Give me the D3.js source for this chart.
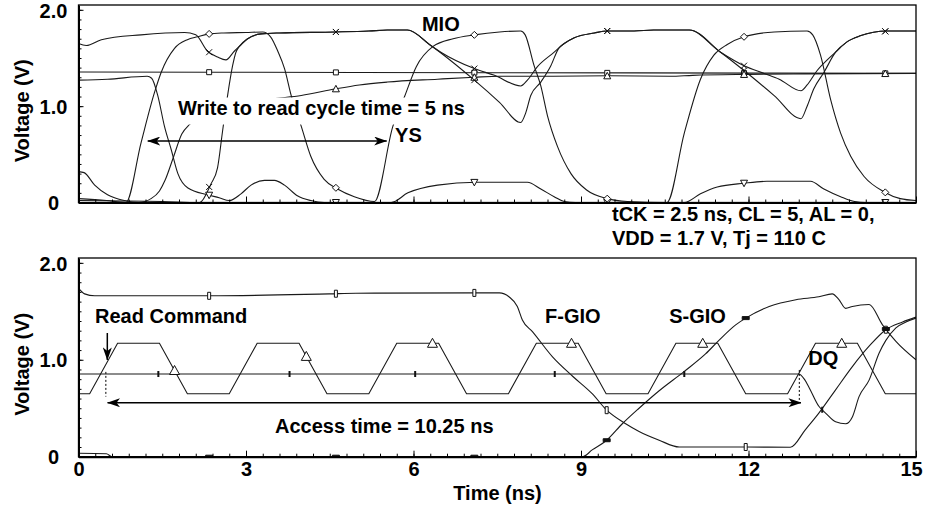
<!DOCTYPE html>
<html>
<head>
<meta charset="utf-8">
<script src="https://cdn.jsdelivr.net/npm/d3@7/dist/d3.min.js"></script>
<style>
  body { margin: 0; background: #fff; }
  svg { display: block; }
  text { font-family: "Liberation Sans", Arial, sans-serif; font-weight: bold; fill: #000; }
</style>
</head>
<body>
<div id="chart"></div>
<script>
// ---- data: [time (ns), voltage (V)] ----
const timeTicks = [0, 3, 6, 9, 12, 15];
const voltTicks = [0, 1, 2];
const voltLabels = ["0", "1.0", "2.0"];

// upper panel (write to read)
const ysWave = [[0,0.04],[0.5,0.02],[0.85,0],[1.12,0.62],[1.36,1.14],[1.48,1.35],[1.72,1.6],[1.95,1.69],[2.13,1.72],[2.34,1.75],[2.6,1.76],[3.0,1.765],[3.3,1.77],[3.44,1.72],[3.57,1.57],[3.69,1.39],[3.81,1.11],[3.99,0.79],[4.16,0.48],[4.4,0.24],[4.64,0.14],[4.94,0.06],[5.3,0.01],[5.63,0.79],[5.84,1.1],[6.05,1.41],[6.35,1.62],[6.71,1.70],[7.09,1.74],[7.54,1.77],[7.92,1.78],[8.0,1.74],[8.16,1.42],[8.28,1.21],[8.4,0.9],[8.58,0.58],[8.82,0.30],[9.1,0.13],[9.47,0.04],[9.83,0.01],[10.54,0],[10.85,0.72],[11.14,1.28],[11.38,1.53],[11.62,1.64],[11.92,1.72],[12.46,1.77],[13.05,1.78],[13.15,1.74],[13.29,1.53],[13.47,1.07],[13.65,0.72],[13.83,0.48],[14.07,0.27],[14.43,0.11],[14.72,0.04],[15,0.02]];
const mioA = [[0,1.65],[0.14,1.63],[0.41,1.69],[1.12,1.74],[1.9,1.765],[2.1,1.74],[2.31,1.57],[2.49,1.51],[2.64,1.48],[2.79,1.57],[2.88,1.62],[3.03,1.70],[3.27,1.75],[3.6,1.76],[4.6,1.77],[5.2,1.78],[5.53,1.79],[5.89,1.79],[6.31,1.63],[6.49,1.56],[7.09,1.39],[7.45,1.32],[7.92,1.21],[8.04,1.27],[8.22,1.41],[8.52,1.56],[8.7,1.65],[8.88,1.71],[9.24,1.76],[9.47,1.78],[9.95,1.78],[10.3,1.79],[10.94,1.79],[11.5,1.56],[11.92,1.42],[12.28,1.34],[12.55,1.28],[12.94,1.16],[13.05,1.22],[13.23,1.37],[13.41,1.48],[13.56,1.56],[13.77,1.67],[14.0,1.73],[14.48,1.78],[15,1.78]];
const mioB = [[0,0.02],[1.5,0.01],[2.17,0],[2.37,0.19],[2.49,0.36],[2.58,0.74],[2.67,1.11],[2.76,1.42],[2.82,1.56],[2.88,1.62],[3.03,1.70],[3.27,1.75],[3.6,1.76],[4.6,1.77],[5.2,1.78],[5.53,1.79],[5.89,1.79],[6.31,1.63],[7.09,1.27],[7.54,1.04],[7.92,0.83],[8.01,0.93],[8.1,1.11],[8.28,1.25],[8.46,1.42],[8.6,1.6],[8.7,1.65],[8.88,1.71],[9.24,1.76],[9.47,1.78],[9.95,1.78],[10.3,1.79],[10.94,1.79],[11.5,1.56],[11.92,1.37],[12.46,1.11],[12.94,0.87],[13.05,1.0],[13.17,1.18],[13.35,1.35],[13.56,1.56],[13.77,1.67],[14.0,1.73],[14.48,1.78],[15,1.78]];
const refWave = [[0,1.355],[5,1.35],[10,1.345],[15,1.34]];
const slowWave = [[0,0.32],[0.1,0.31],[0.29,0.18],[0.52,0.08],[0.82,0.02],[1.08,0],[1.3,0.04],[1.45,0.12],[1.55,0.23],[1.7,0.47],[1.85,0.71],[1.99,0.81],[2.3,0.9],[2.8,1.0],[3.4,1.07],[3.99,1.11],[4.61,1.18],[5.03,1.22],[5.53,1.25],[6.43,1.28],[7.09,1.30],[7.54,1.31],[8.5,1.31],[9.5,1.315],[10.6,1.31],[11.0,1.32],[12.0,1.33],[13.0,1.335],[15,1.34]];
const bumpWave = [[0,1.27],[0.52,1.28],[1.23,1.31],[1.31,1.29],[1.42,1.11],[1.54,0.79],[1.66,0.55],[1.78,0.30],[1.96,0.15],[2.31,0.08],[2.52,0.05],[2.7,0.02],[2.91,0.09],[3.09,0.18],[3.33,0.23],[3.51,0.23],[3.69,0.18],[3.92,0.07],[4.16,0.02],[4.4,0],[5.6,0],[5.9,0.1],[6.43,0.18],[7.12,0.21],[8.04,0.21],[8.28,0.14],[8.52,0.06],[8.7,0.01],[8.9,0],[10.85,0],[11.14,0.09],[11.44,0.16],[11.92,0.2],[12.33,0.22],[13.11,0.22],[13.35,0.14],[13.65,0.06],[13.9,0.01],[14.1,0],[15,0]];

// lower panel (read)
const clkWave = [[0,0.65],[0.2,0.65],[0.7,1.17],[1.45,1.17],[1.95,0.65],[2.7,0.65],[3.2,1.17],[3.95,1.17],[4.45,0.65],[5.2,0.65],[5.7,1.17],[6.45,1.17],[6.95,0.65],[7.7,0.65],[8.2,1.17],[8.95,1.17],[9.45,0.65],[10.2,0.65],[10.7,1.17],[11.45,1.17],[11.95,0.65],[12.7,0.65],[13.2,1.17],[13.95,1.17],[14.45,0.65],[15,0.65]];
const dqWave = [[0,0.853],[12.9,0.853],[13.0,0.8],[13.08,0.72],[13.26,0.52],[13.38,0.45],[13.56,0.36],[13.74,0.34],[13.86,0.41],[13.98,0.62],[14.16,0.79],[14.34,1.07],[14.46,1.20],[14.64,1.33],[14.82,1.39],[15,1.43]];
const fgioWave = [[0,1.74],[0.11,1.68],[0.29,1.66],[2.34,1.66],[4.49,1.68],[4.97,1.686],[7.09,1.69],[7.54,1.69],[7.71,1.65],[7.86,1.55],[7.95,1.41],[8.13,1.29],[8.49,1.03],[8.85,0.83],[9.2,0.65],[9.46,0.48],[9.8,0.34],[10.04,0.26],[10.4,0.17],[10.76,0.10],[11.47,0.10],[11.95,0.10],[12.75,0.097],[13.02,0.28],[13.26,0.45],[13.56,0.69],[13.86,0.93],[14.16,1.14],[14.46,1.31],[14.76,1.39],[15,1.44]];
const sgioWave = [[0,0.035],[0.5,0.03],[0.6,0],[9.03,0],[9.2,0.07],[9.46,0.17],[9.74,0.34],[10.04,0.5],[10.4,0.68],[10.85,0.88],[11.23,1.06],[11.47,1.2],[11.77,1.36],[11.95,1.43],[12.37,1.55],[12.85,1.62],[13.26,1.65],[13.5,1.68],[13.62,1.62],[13.74,1.53],[13.86,1.55],[14.16,1.57],[14.4,1.36],[14.64,1.19],[15,1.0]];

// symbol positions along the traces
const markTimesTop = [2.34, 4.61, 7.09, 9.47, 11.92, 14.45];
const markTimesGio = [2.34, 4.61, 7.09, 9.46, 11.95, 14.46];
const markTimesClk = [1.72, 4.08, 6.34, 8.83, 11.18, 13.67];
const markTimesDq = [1.43, 3.78, 6.03, 8.53, 10.85, 13.32];

// ---- drawing ----
const width = 925, height = 512;
const svg = d3.select("#chart").append("svg").attr("width", width).attr("height", height);

const defs = svg.append("defs");
defs.append("marker").attr("id", "head")
  .attr("viewBox", "0 0 13 9").attr("refX", 12.5).attr("refY", 4.5)
  .attr("markerWidth", 13).attr("markerHeight", 9)
  .attr("markerUnits", "userSpaceOnUse").attr("orient", "auto-start-reverse")
  .append("path").attr("d", "M0,0 L13,4.5 L0,9 L3.5,4.5 Z").attr("fill", "#000");

const x = d3.scaleLinear().domain([0, 15]).range([78.5, 916]);

const shapes = {
  square: "M-2.5,-2.5h5v5h-5Z",
  cross: "M-3,-3L3,3M3,-3L-3,3",
  diamond: "M0,-3.5L3.5,0L0,3.5L-3.5,0Z",
  tri: "M0,-3.5L3.5,3L-3.5,3Z",
  dtri: "M0,3.5L3.5,-3L-3.5,-3Z",
  tall: "M-1.5,-3.5h3v7h-3Z",
  wide: "M-3.5,-1.5h7v3h-7Z",
  bigtri: "M0,-5L5,4L-5,4Z",
  bar: "M0,-3V3"
};

function valueAt(wave, t) {
  const i = d3.bisector(d => d[0]).left(wave, t);
  if (i <= 0) return wave[0][1];
  if (i >= wave.length) return wave[wave.length - 1][1];
  const a = wave[i - 1], b = wave[i];
  return a[1] + (b[1] - a[1]) * (t - a[0]) / (b[0] - a[0]);
}

function drawPanel(cfg) {
  const y = d3.scaleLinear().domain([0, 2.05]).range([cfg.bottom, cfg.top]);
  const g = svg.append("g");

  g.append("clipPath").attr("id", "clip-" + cfg.id)
    .append("rect").attr("x", x(0)).attr("y", cfg.top)
    .attr("width", x(15) - x(0)).attr("height", cfg.bottom - cfg.top);

  const plot = g.append("g").attr("clip-path", `url(#clip-${cfg.id})`);

  cfg.traces.forEach(tr => {
    const line = d3.line().x(d => x(d[0])).y(d => y(d[1]))
      .curve(tr.linear ? d3.curveLinear : d3.curveMonotoneX);
    plot.append("path").datum(tr.data)
      .attr("d", line).attr("fill", "none")
      .attr("stroke", "#1a1a1a").attr("stroke-width", 1.1);
  });

  cfg.traces.forEach(tr => {
    plot.selectAll(null).data(tr.marks).enter().append("path")
      .attr("transform", t => `translate(${x(t)},${y(valueAt(tr.data, t))})`)
      .attr("d", shapes[tr.shape])
      .attr("fill", tr.fill || "#fff")
      .attr("stroke", "#111").attr("stroke-width", tr.shape === "bar" ? 2 : 1);
  });

  // frame
  g.append("rect").attr("x", x(0)).attr("y", cfg.top)
    .attr("width", x(15) - x(0)).attr("height", cfg.bottom - cfg.top)
    .attr("fill", "none").attr("stroke", "#000").attr("stroke-width", 1.3);

  // y axis: minor + major
  g.append("g").attr("transform", `translate(${x(0)},0)`)
    .call(d3.axisLeft(y).tickValues(d3.range(0, 2.05, 0.1)).tickSize(-3).tickSizeOuter(0).tickFormat(""))
    .call(a => a.select(".domain").attr("stroke-width", 2));
  g.append("g").attr("transform", `translate(${x(0)},0)`)
    .call(d3.axisLeft(y).tickValues(voltTicks).tickSize(-5).tickSizeOuter(0)
      .tickFormat((d, i) => voltLabels[i]))
    .call(a => a.select(".domain").remove())
    .call(a => a.selectAll("text").attr("x", -25).attr("text-anchor", "middle")
      .attr("dy", "0.36em").style("font-size", "20px")
      .style("font-family", "'Liberation Sans', Arial, sans-serif").style("font-weight", "bold"));

  // x axis: minor + major
  g.append("g").attr("transform", `translate(0,${cfg.bottom})`)
    .call(d3.axisBottom(x).tickValues(d3.range(0, 15.01, 0.3)).tickSize(-3).tickSizeOuter(0).tickFormat(""))
    .call(a => a.select(".domain").attr("stroke-width", 2.2));
  const xa = g.append("g").attr("transform", `translate(0,${cfg.bottom})`)
    .call(d3.axisBottom(x).tickValues(timeTicks).tickSize(-6).tickSizeOuter(0)
      .tickFormat(d3.format("d")))
    .call(a => a.select(".domain").remove());
  if (cfg.labels) {
    xa.selectAll("text").attr("y", 5).attr("dy", "0.71em").style("font-size", "20px")
      .attr("dx", d => d === 15 ? -5 : 0)
      .style("font-family", "'Liberation Sans', Arial, sans-serif").style("font-weight", "bold");
  } else {
    xa.selectAll("text").remove();
  }

  // y title
  g.append("text")
    .attr("transform", `translate(22,${(cfg.top + cfg.bottom) / 2 + 7}) rotate(-90)`)
    .attr("text-anchor", "middle").attr("dominant-baseline", "central")
    .style("font-size", "20px").text("Voltage (V)");

  return { g, y };
}

const upperPanel = drawPanel({
  id: "upper", top: 5, bottom: 202.5, labels: false,
  traces: [
    { data: refWave, marks: markTimesTop, shape: "square" },
    { data: slowWave, marks: markTimesTop, shape: "tri" },
    { data: bumpWave, marks: markTimesTop, shape: "dtri" },
    { data: mioB, marks: markTimesTop, shape: "cross" },
    { data: mioA, marks: markTimesTop, shape: "cross" },
    { data: ysWave, marks: markTimesTop, shape: "diamond" }
  ]
});

const lowerPanel = drawPanel({
  id: "lower", top: 258, bottom: 456.7, labels: true,
  traces: [
    { data: clkWave, marks: markTimesClk, shape: "bigtri", linear: true },
    { data: dqWave, marks: markTimesDq, shape: "bar" },
    { data: fgioWave, marks: markTimesGio, shape: "tall" },
    { data: sgioWave, marks: markTimesGio, shape: "wide", fill: "#111" }
  ]
});

function label(g, str, px, py, anchor) {
  return g.append("text").attr("x", px).attr("y", py)
    .attr("text-anchor", anchor || "start").style("font-size", "20px").text(str);
}

function arrow(g, t0, v0, t1, v1, y, both) {
  const l = g.append("line")
    .attr("x1", x(t0)).attr("y1", y(v0)).attr("x2", x(t1)).attr("y2", y(v1))
    .attr("stroke", "#000").attr("stroke-width", 1.5)
    .attr("marker-end", "url(#head)");
  if (both) l.attr("marker-start", "url(#head)");
}

function dotted(g, t, v0, v1, y) {
  g.append("line").attr("x1", x(t)).attr("x2", x(t)).attr("y1", y(v0)).attr("y2", y(v1))
    .attr("stroke", "#000").attr("stroke-width", 1).attr("stroke-dasharray", "2,2");
}

// upper annotations
{
  const g = upperPanel.g, y = upperPanel.y;
  const mask = g.append("rect").attr("fill", "#fff");
  const w = label(g, "Write to read cycle time = 5 ns", x(1.78), y(0.913));
  const bb = w.node().getBBox();
  mask.attr("x", bb.x - 6).attr("y", y(0.913) - 17)
    .attr("width", bb.width + 10).attr("height", 27);
  arrow(g, 1.24, 0.638, 5.52, 0.638, y, true);
  label(g, "YS", x(5.67), y(0.633));
  label(g, "MIO", x(6.49), y(1.775), "middle");
  label(svg, "tCK = 2.5 ns, CL = 5, AL = 0,", 612, 221);
  label(svg, "VDD = 1.7 V, Tj = 110 C", 612, 245);
}

// lower annotations
{
  const g = lowerPanel.g, y = lowerPanel.y;
  label(g, "Read Command", x(0.296), y(1.379));
  arrow(g, 0.516, 1.276, 0.516, 0.998, y, false);
  dotted(g, 0.49, 0.875, 0.62, y);
  dotted(g, 12.91, 0.895, 0.555, y);
  arrow(g, 0.52, 0.557, 12.94, 0.557, y, true);
  label(g, "Access time = 10.25 ns", x(3.52), y(0.245));
  label(g, "F-GIO", x(8.356), y(1.382));
  label(g, "S-GIO", x(10.58), y(1.382));
  label(g, "DQ", x(13.07), y(0.946));
  label(svg, "Time (ns)", 497.5, 500, "middle");
}
</script>
</body>
</html>
